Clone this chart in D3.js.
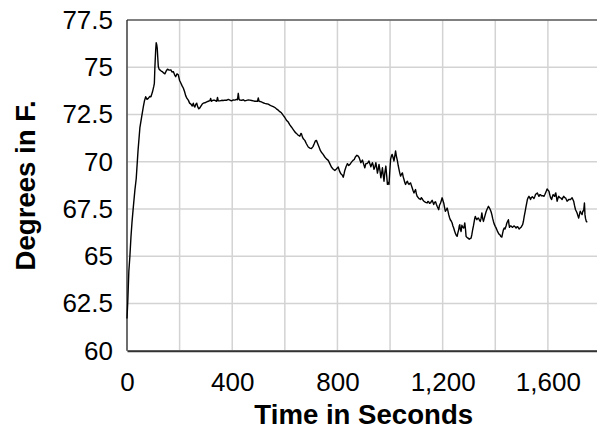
<!DOCTYPE html>
<html>
<head>
<meta charset="utf-8">
<script src="https://cdn.jsdelivr.net/npm/d3@7"></script>
<style>
  html, body { margin: 0; padding: 0; background: #fff; }
  svg { display: block; font-family: "Liberation Sans", Arial, sans-serif; }
</style>
</head>
<body>
<svg id="viz" width="597" height="429"></svg>
<script>
// seconds and temperature readings
var seconds = [0,3,7,11,15,19,24,30,35,42,49,56,62,66,71,76,81,86,91,97,102,104,106,109,111,113,115,117,119,122,125,130,134,139,144,149,154,160,167,171,176,181,185,190,195,200,205,210,214,219,223,228,233,238,243,248,252,255,258,262,265,269,273,277,281,286,290,296,303,309,315,318,321,328,334,341,344,347,353,360,366,372,378,385,391,397,404,410,416,420,423,426,429,436,442,448,455,461,467,474,480,486,492,496,499,502,511,517,524,530,537,543,549,556,562,568,575,581,587,594,600,606,613,619,625,632,638,644,651,657,661,663,667,671,676,682,689,695,701,707,712,716,720,725,730,735,739,745,752,758,765,771,777,784,790,796,803,808,813,818,822,825,828,833,838,843,847,852,859,864,868,874,879,883,889,895,899,904,908,912,916,920,923,927,930,933,936,939,943,946,949,952,955,958,962,965,968,971,974,977,980,984,987,990,993,996,999,1002,1005,1008,1012,1015,1018,1021,1024,1028,1031,1034,1037,1040,1044,1047,1050,1053,1056,1059,1062,1066,1069,1072,1075,1078,1081,1084,1088,1091,1094,1097,1100,1103,1110,1116,1119,1122,1126,1129,1135,1141,1144,1147,1150,1154,1157,1160,1163,1166,1169,1173,1176,1179,1182,1185,1188,1192,1195,1198,1201,1204,1207,1210,1214,1217,1220,1223,1226,1229,1233,1236,1239,1242,1245,1248,1252,1255,1258,1261,1263,1265,1267,1270,1272,1273,1276,1280,1282,1284,1287,1289,1292,1295,1298,1301,1304,1308,1311,1314,1317,1320,1322,1324,1327,1330,1333,1336,1340,1343,1346,1349,1352,1355,1358,1362,1365,1368,1371,1374,1378,1381,1384,1387,1390,1393,1396,1400,1403,1406,1409,1412,1415,1418,1421,1425,1428,1431,1434,1437,1441,1444,1447,1450,1452,1454,1457,1460,1463,1466,1469,1472,1476,1479,1482,1485,1488,1491,1495,1498,1501,1504,1507,1510,1514,1517,1520,1522,1525,1528,1531,1534,1537,1541,1544,1547,1550,1553,1556,1560,1563,1566,1569,1572,1575,1578,1582,1585,1588,1591,1594,1597,1600,1604,1607,1610,1614,1617,1620,1623,1626,1628,1630,1633,1635,1638,1641,1645,1648,1651,1654,1657,1660,1664,1667,1670,1673,1676,1679,1682,1686,1689,1692,1695,1698,1701,1705,1708,1711,1714,1717,1720,1723,1726,1730,1733,1736,1739,1741,1743,1746,1750];
var degrees = [61.7,62.6,64.2,65.0,66.0,66.8,67.6,68.5,69.1,70.6,71.8,72.4,72.9,73.2,73.44,73.3,73.35,73.45,73.44,73.7,74.0,74.15,75.0,75.9,76.3,76.2,76.0,75.5,75.04,74.9,74.86,74.8,74.77,74.7,74.65,74.8,74.9,74.85,74.86,74.75,74.77,74.6,74.5,74.65,74.6,74.3,74.15,74.0,73.9,73.7,73.5,73.35,73.26,73.1,73.05,72.95,73.1,72.95,72.9,73.05,73.1,72.9,72.8,72.85,72.94,73.05,73.1,73.12,73.17,73.2,73.23,73.35,73.2,73.26,73.25,73.2,73.4,73.22,73.22,73.25,73.24,73.26,73.25,73.3,73.26,73.22,73.27,73.26,73.3,73.28,73.62,73.3,73.26,73.25,73.28,73.22,73.25,73.27,73.26,73.24,73.22,73.2,73.2,73.2,73.38,73.2,73.17,73.12,73.09,73.07,73.05,73.0,72.96,72.92,72.87,72.8,72.73,72.65,72.59,72.45,72.34,72.2,72.1,71.95,71.84,71.7,71.58,71.5,71.4,71.35,71.5,71.49,71.3,71.2,71.13,70.95,70.78,70.72,70.7,70.8,70.96,71.1,71.13,70.95,70.78,70.6,70.5,70.4,70.25,70.15,70.07,69.9,69.72,69.6,69.54,69.62,69.72,69.5,69.36,69.3,69.18,69.35,69.54,69.75,69.9,69.8,69.85,69.95,70.07,70.12,70.25,70.34,70.3,70.2,69.95,70.09,69.9,69.68,69.9,69.9,69.95,70.04,69.9,69.73,69.85,69.95,69.8,69.6,69.75,69.95,69.7,69.4,69.6,69.86,69.5,69.15,69.4,69.68,69.3,68.97,69.4,69.77,69.3,68.8,68.9,68.8,69.5,70.12,70.3,70.39,70.2,70.04,70.3,70.57,70.3,70.04,69.8,69.6,69.4,69.24,69.35,69.41,69.2,69.06,68.9,68.8,68.9,68.97,68.85,68.8,68.85,68.88,68.75,68.62,68.45,68.35,68.45,68.53,68.3,68.17,68.05,68.0,68.1,68.05,67.95,67.91,67.85,67.82,67.9,67.88,67.8,67.82,67.9,67.96,67.85,67.73,67.85,67.88,67.75,67.64,67.55,67.46,67.7,67.82,67.95,68.09,67.95,67.82,67.6,67.38,67.45,67.55,67.4,67.2,67.05,66.93,66.85,66.76,66.6,66.49,66.35,66.22,66.1,66.05,66.25,66.4,66.6,66.67,66.45,66.31,66.5,66.64,66.55,66.49,66.6,66.76,66.4,66.05,66.0,65.96,65.95,65.9,65.93,65.96,66.15,66.4,66.6,66.84,67.0,67.11,67.0,66.93,67.0,67.02,66.9,66.84,67.0,67.29,67.0,66.84,67.0,67.2,67.35,67.46,67.55,67.64,67.55,67.46,67.35,67.2,67.0,66.84,66.7,66.58,66.5,66.4,66.3,66.22,66.15,66.13,66.05,66.01,66.22,66.4,66.49,66.44,66.6,66.76,66.85,66.93,66.7,66.53,66.6,66.6,66.55,66.53,66.58,66.6,66.55,66.49,66.55,66.56,66.5,66.44,66.5,66.53,66.6,66.67,66.85,67.11,67.4,67.64,67.85,68.0,68.1,68.17,68.1,68.0,68.1,68.15,68.1,68.05,68.15,68.26,68.3,68.35,68.25,68.17,68.25,68.26,68.2,68.2,68.2,68.17,68.25,68.35,68.45,68.56,68.5,68.44,68.26,68.1,68.0,68.15,68.26,68.2,68.17,68.3,68.35,68.1,67.91,68.05,68.17,68.1,68.09,68.05,68.0,68.1,68.17,68.1,68.09,68.0,67.91,67.95,68.0,68.0,68.0,68.05,68.09,68.0,67.91,67.7,67.46,67.38,67.29,67.15,67.02,67.2,67.38,67.3,67.2,67.4,67.4,67.82,67.2,67.0,66.84,66.8];

var xTicks = [0, 400, 800, 1200, 1600]
  , xGrid = [0, 200, 400, 600, 800, 1000, 1200, 1400, 1600, 1800]
  , yTicks = [60, 62.5, 65, 67.5, 70, 72.5, 75, 77.5];

var margin = {left: 127, top: 20}
  , width = 473.5
  , height = 330.7
  , svg = d3.select("#viz");

var x = d3.scaleLinear().domain([0, 1800]).range([0, width])
  , y = d3.scaleLinear().domain([60, 77.5]).range([height, 0]);

var g = svg.append("g")
  .attr("transform", "translate(" + margin.left + "," + margin.top + ")");

// grid
g.append("g").selectAll("line")
  .data(xGrid)
  .enter().append("line")
    .attr("x1", d => x(d)).attr("x2", d => x(d))
    .attr("y1", 0).attr("y2", height)
    .attr("stroke", "#d3d3d3").attr("stroke-width", 1.5);

g.append("g").selectAll("line")
  .data(yTicks)
  .enter().append("line")
    .attr("x1", 0).attr("x2", width)
    .attr("y1", d => y(d)).attr("y2", d => y(d))
    .attr("stroke", "#d3d3d3").attr("stroke-width", 1.5);

// frame
g.append("line").attr("x1", 0).attr("x2", width).attr("y1", 0).attr("y2", 0)
  .attr("stroke", "#222").attr("stroke-width", 1.2);
g.append("line").attr("x1", 0).attr("x2", 0).attr("y1", 0).attr("y2", height)
  .attr("stroke", "#222").attr("stroke-width", 1.2);

// axes, drawn with d3's axis then restyled
var xAxis = g.append("g")
  .attr("transform", "translate(0," + height + ")")
  .call(d3.axisBottom(x).tickValues(xTicks).tickSize(0).tickPadding(22)
    .tickFormat(d3.format(",")));
xAxis.select(".domain").attr("stroke", "#333").attr("stroke-width", 2);

var yAxis = g.append("g")
  .call(d3.axisLeft(y).tickValues(yTicks).tickSize(0).tickPadding(14)
    .tickFormat(d => d));
yAxis.select(".domain").remove();

svg.selectAll(".tick text")
  .attr("font-family", "Liberation Sans, Arial, sans-serif")
  .attr("font-size", 26)
  .attr("fill", "#000");

// the series
var points = seconds.map((s, i) => [s, degrees[i]]);
g.append("path")
  .datum(points)
  .attr("fill", "none")
  .attr("stroke", "#000")
  .attr("stroke-width", 1.4)
  .attr("stroke-linejoin", "round")
  .attr("d", d3.line().x(d => x(d[0])).y(d => y(d[1])));

// titles
svg.append("text")
  .attr("x", margin.left + x(900))
  .attr("y", 424)
  .attr("text-anchor", "middle")
  .attr("font-size", 27.6)
  .attr("font-weight", "bold")
  .text("Time in Seconds");

svg.append("text")
  .attr("transform", "translate(35," + (margin.top + height / 2) + ") rotate(-90)")
  .attr("text-anchor", "middle")
  .attr("font-size", 27.6)
  .attr("font-weight", "bold")
  .text("Degrees in F.");
</script>
</body>
</html>
